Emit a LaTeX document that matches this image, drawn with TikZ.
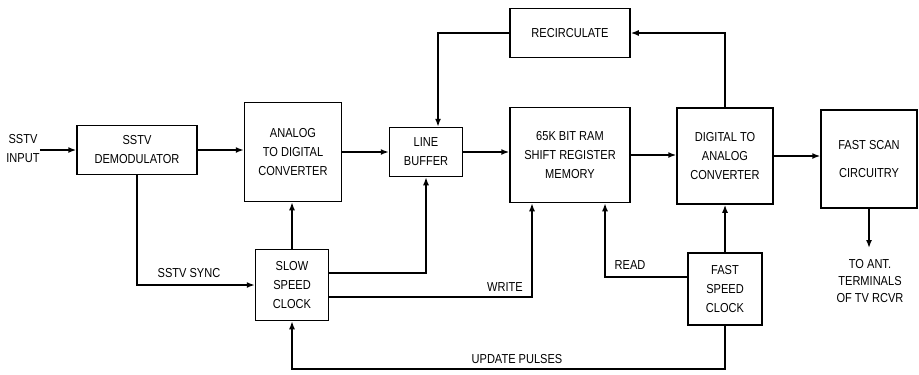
\documentclass[tikz,border=0pt]{standalone}
\usepackage{fontspec}
\setmainfont{Liberation Sans}[FakeStretch=0.85]
\usetikzlibrary{arrows.meta}
\begin{document}
\begin{tikzpicture}[x=1pt,y=-1pt,
  blk/.style={draw,line width=1.5pt,inner sep=0pt,align=center,font=\fontsize{13}{19}\selectfont},
  lbl/.style={inner sep=0pt,align=center,font=\fontsize{13}{19}\selectfont},
  conn/.style={line width=1.5pt},
  arr/.style={conn,-{Latex[length=8pt,width=6pt]}}]
\useasboundingbox (0,0) rectangle (919,375);
\node[lbl] (in) at (23,149) {SSTV\\INPUT};
\node[blk,minimum width=120pt,minimum height=49pt] (demod) at (137,150) {SSTV\\DEMODULATOR};
\node[blk,minimum width=97pt,minimum height=99pt] (adc) at (293,152) {ANALOG\\TO DIGITAL\\CONVERTER};
\node[blk,minimum width=73pt,minimum height=49pt] (buf) at (426,152) {LINE\\BUFFER};
\node[blk,minimum width=73pt,minimum height=71pt] (slow) at (292,285) {SLOW\\SPEED\\CLOCK};
\node[blk,minimum width=120pt,minimum height=49pt] (recirc) at (570,33) {RECIRCULATE};
\node[blk,minimum width=120pt,minimum height=95pt] (mem) at (570,155) {65K BIT RAM\\SHIFT REGISTER\\MEMORY};
\node[blk,minimum width=96pt,minimum height=96pt] (dac) at (725,156) {DIGITAL TO\\ANALOG\\CONVERTER};
\node[blk,minimum width=96pt,minimum height=98pt,font=\fontsize{13}{28}\selectfont] (scan) at (869,159) {FAST SCAN\\CIRCUITRY};
\node[blk,minimum width=74pt,minimum height=72pt] (fast) at (725,289) {FAST\\SPEED\\CLOCK};
\node[lbl,font=\fontsize{13}{17}\selectfont] (ant) at (870,281) {TO ANT.\\TERMINALS\\OF TV RCVR};
\coordinate (antend) at (870,248);
\node[lbl] (sync) at (189,273) {SSTV SYNC};
\node[lbl] (write) at (505,287) {WRITE};
\node[lbl] (read) at (630,265) {READ};
\node[lbl] (upd) at (517,359) {UPDATE PULSES};

\draw[arr] (in.east |- demod.west) -- (demod.west);
\draw[arr] (demod.east) -- (adc.west |- demod.east);
\draw[arr] (adc.east) -- (buf.west);
\draw[arr] (buf.east) -- (mem.west |- buf.east);
\draw[arr] (mem.east) -- (dac.west |- mem.east);
\draw[arr] (dac.east) -- (scan.west |- dac.east);
\draw[arr] (scan.south) -- (scan.south |- antend);
\draw[arr] (demod.south) |- (slow.west);
\draw[arr] (slow.north) -- (adc.south -| slow.north);
\draw[arr] ([yshift=12pt]slow.east) -| (buf.south);
\draw[arr] ([yshift=-12pt]slow.east) -| ([xshift=-38pt]mem.south);
\draw[arr] ([yshift=12pt]fast.west) -| ([xshift=35pt]mem.south);
\draw[arr] (fast.north) -- (dac.south);
\draw[arr] (fast.south) -- ++(0,43) -| (slow.south);
\draw[arr] (dac.north) |- (recirc.east);
\draw[arr] (recirc.west) -| ([xshift=12pt]buf.north);
\end{tikzpicture}
\end{document}
